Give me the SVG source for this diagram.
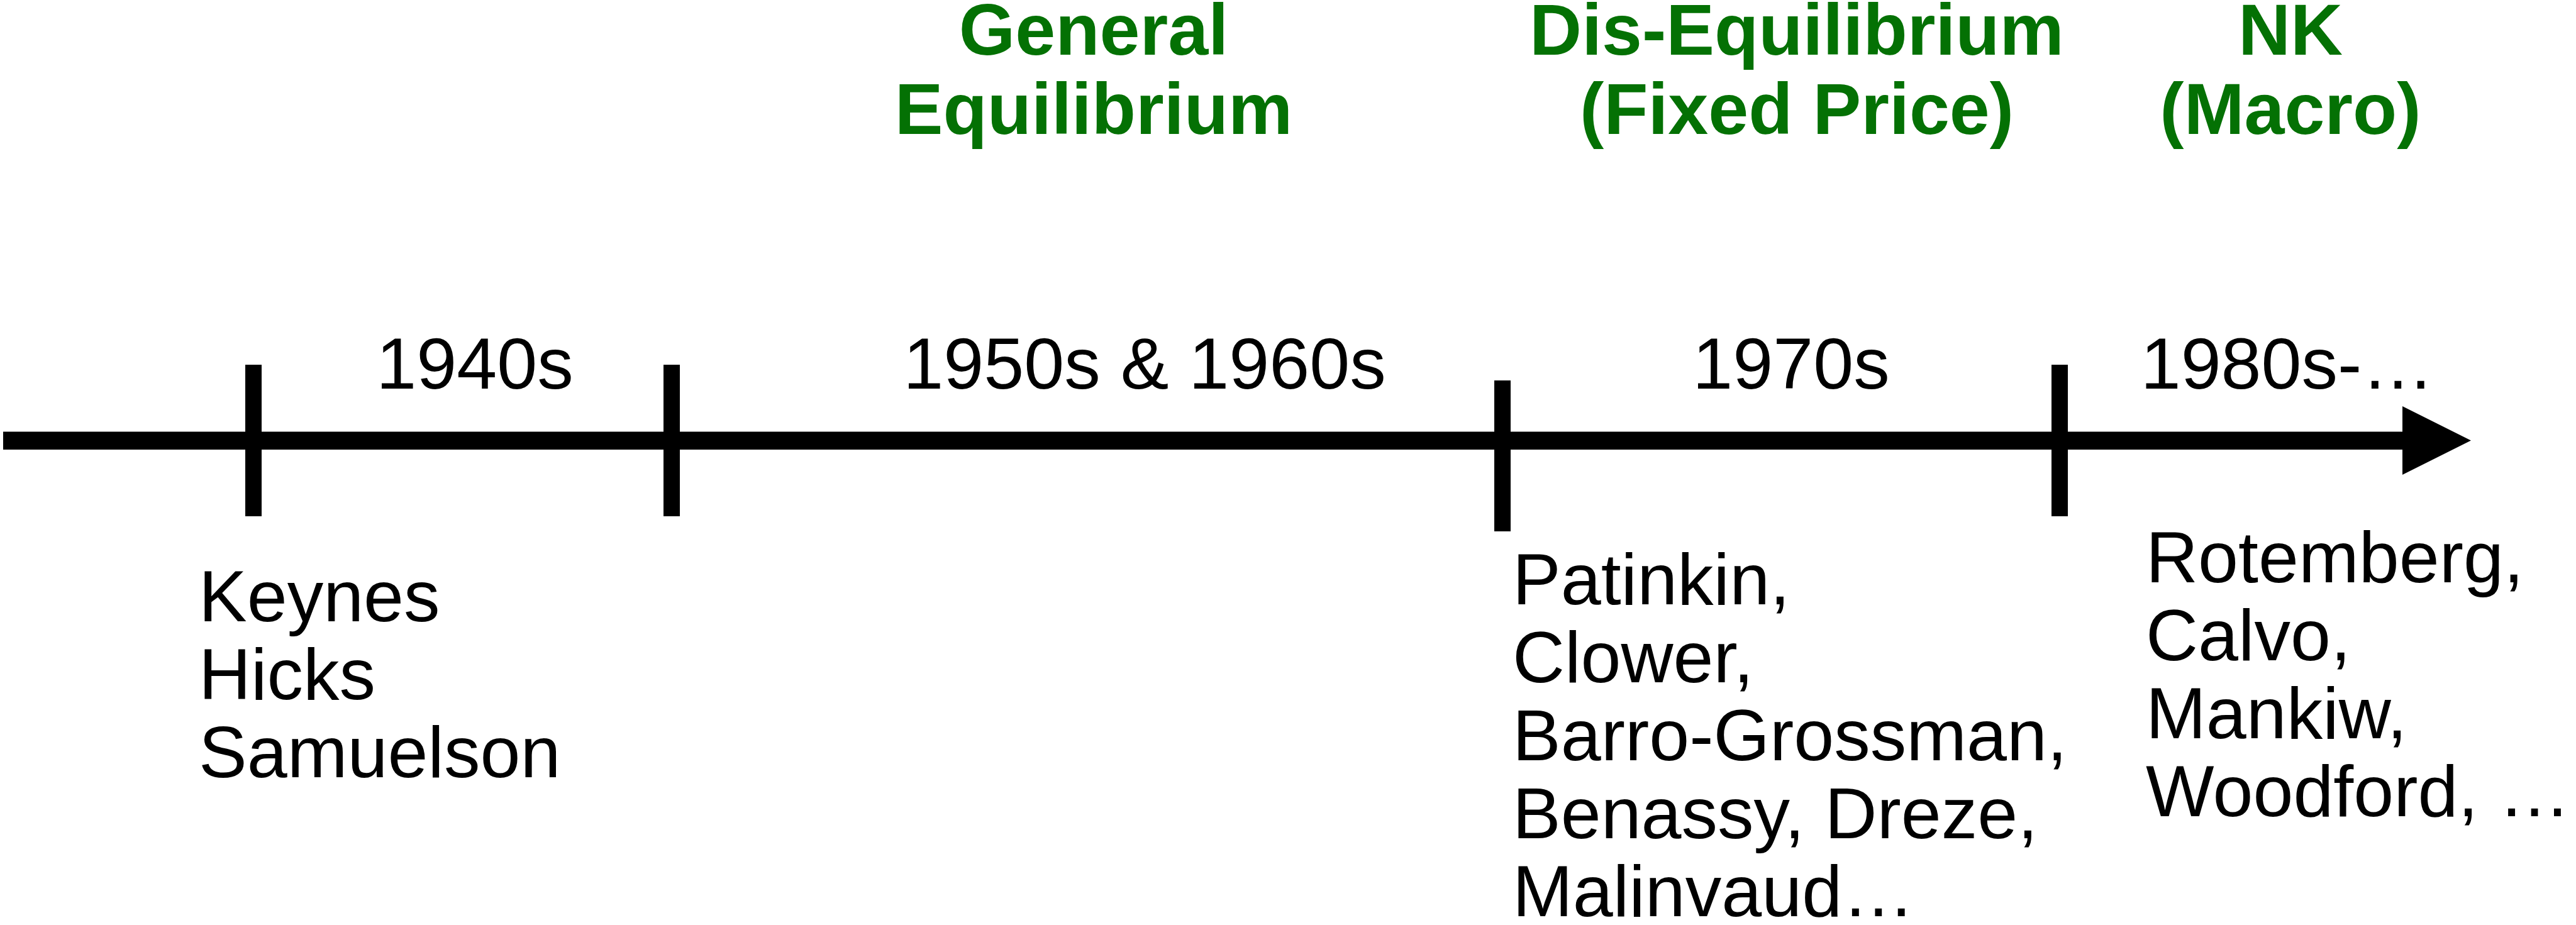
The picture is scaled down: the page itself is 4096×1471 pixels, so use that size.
<svg xmlns="http://www.w3.org/2000/svg" width="4096" height="1471" viewBox="0 0 4096 1471">
  <style>
    .era { font-family: "Liberation Sans", Arial, Helvetica, sans-serif; font-size: 115px; fill: #000000; }
    .school { font-family: "Liberation Sans", Arial, Helvetica, sans-serif; font-size: 115px; font-weight: bold; fill: #047104; text-anchor: middle; }
    .names { font-family: "Liberation Sans", Arial, Helvetica, sans-serif; font-size: 115px; fill: #000000; }
    .tick { fill: #000000; }
  </style>
  <rect width="4096" height="1471" fill="#ffffff"/>

  <g id="connectors">
    <rect id="axis" x="5" y="686.5" width="3817" height="28.5" fill="#000000"/>
    <polygon id="axis-arrowhead" points="3820,646 3929,700.5 3820,755" fill="#000000"/>
    <rect class="tick" x="390" y="580" width="26" height="241"/>
    <rect class="tick" x="1055" y="580" width="26" height="241"/>
    <rect class="tick" x="2376" y="605" width="26" height="240"/>
    <rect class="tick" x="3262" y="580" width="26" height="241"/>
  </g>

  <g id="period-1940s">
    <text class="era" x="755" y="618" text-anchor="middle">1940s</text>
    <text class="names" x="316" y="988">Keynes</text>
    <text class="names" x="316" y="1112">Hicks</text>
    <text class="names" x="316" y="1236">Samuelson</text>
  </g>

  <g id="period-1950s-1960s">
    <text class="school" x="1739" y="87">General</text>
    <text class="school" x="1739" y="213">Equilibrium</text>
    <text class="era" x="1820" y="618" text-anchor="middle">1950s &amp; 1960s</text>
  </g>

  <g id="period-1970s">
    <text class="school" x="2857" y="87">Dis-Equilibrium</text>
    <text class="school" x="2857" y="213">(Fixed Price)</text>
    <text class="era" x="2848" y="618" text-anchor="middle">1970s</text>
    <text class="names" x="2405" y="961">Patinkin,</text>
    <text class="names" x="2405" y="1085">Clower,</text>
    <text class="names" x="2405" y="1209">Barro-Grossman,</text>
    <text class="names" x="2405" y="1333">Benassy, Dreze,</text>
    <text class="names" x="2405" y="1457">Malinvaud…</text>
  </g>

  <g id="period-1980s">
    <text class="school" x="3642" y="87">NK</text>
    <text class="school" x="3642" y="213">(Macro)</text>
    <text class="era" x="3637" y="618" text-anchor="middle">1980s-…</text>
    <text class="names" x="3412" y="926">Rotemberg,</text>
    <text class="names" x="3412" y="1050">Calvo,</text>
    <text class="names" x="3412" y="1174">Mankiw,</text>
    <text class="names" x="3412" y="1298">Woodford, …</text>
  </g>
</svg>
